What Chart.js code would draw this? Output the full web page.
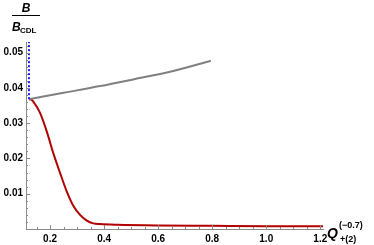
<!DOCTYPE html>
<html>
<head>
<meta charset="utf-8">
<script src="https://cdn.jsdelivr.net/npm/chart.js@4"></script>
<style>
  html, body { margin: 0; padding: 0; background: #fff; }
  #wrap { width: 374px; height: 245px; }
</style>
</head>
<body>
<div id="wrap"><canvas id="chart"></canvas></div>
<script>
// data
const redX = [0.122, 0.13, 0.138, 0.163, 0.188, 0.212, 0.237, 0.262, 0.286, 0.311, 0.336, 0.36, 0.385, 0.45, 0.6, 0.8, 1.0, 1.21];
const redY = [0.0368, 0.0367, 0.0361, 0.0329, 0.0276, 0.0215, 0.0159, 0.0106, 0.0066, 0.0040, 0.0024, 0.0016, 0.0014, 0.0012, 0.0010, 0.0009, 0.0008, 0.0008];
const grayX = [0.122, 0.25, 0.385, 0.507, 0.656, 0.795];
const grayY = [0.0368, 0.0386, 0.0405, 0.0424, 0.0448, 0.0477];
const blueX = [0.122, 0.122];
const blueY = [0.0368, 0.053];

const xTicks = [0.2, 0.4, 0.6, 0.8, 1.0, 1.2];
const yTicks = [0.01, 0.02, 0.03, 0.04, 0.05];

const toPts = (xs, ys) => xs.map((x, i) => ({ x: x, y: ys[i] }));

const axisColor = '#8a8a8a';
const tickFont = { family: '"Liberation Sans", Arial', size: 10, weight: 'bold' };

// inward major/minor ticks plus the axis labels, Mathematica style
const decor = {
  id: 'decor',
  afterDraw(chart) {
    const ctx = chart.ctx;
    const xs = chart.scales.x, ys = chart.scales.y;
    const left = chart.chartArea.left, bottom = chart.chartArea.bottom;
    ctx.save();
    ctx.strokeStyle = axisColor;
    ctx.lineWidth = 1;
    ctx.beginPath();
    for (let v = 0.15; v <= 1.2001; v += 0.05) {
      const major = xTicks.some(t => Math.abs(t - v) < 1e-6);
      const px = Math.round(xs.getPixelForValue(v)) + 0.5;
      ctx.moveTo(px, bottom);
      ctx.lineTo(px, bottom - (major ? 4 : 2));
    }
    for (let v = 0.002; v <= 0.0521; v += 0.002) {
      const major = yTicks.some(t => Math.abs(t - v) < 1e-6);
      const py = Math.round(ys.getPixelForValue(v)) + 0.5;
      ctx.moveTo(left, py);
      ctx.lineTo(left + (major ? 4 : 2), py);
    }
    ctx.stroke();

    // y label: B / B_CDL
    ctx.fillStyle = '#000';
    ctx.textBaseline = 'alphabetic';
    ctx.textAlign = 'center';
    ctx.font = 'italic bold 12px "Liberation Sans"';
    ctx.fillText('B', 26, 12);
    ctx.fillRect(12, 15, 28, 1);
    ctx.textAlign = 'left';
    ctx.fillText('B', 12, 31);
    ctx.font = 'bold 8px "Liberation Sans"';
    ctx.fillText('CDL', 20, 33);

    // x label: Q^(-0.7)_+(2)
    ctx.font = 'italic bold 14px "Liberation Sans"';
    ctx.fillText('Q', 327, 238);
    ctx.font = 'bold 9px "Liberation Sans"';
    ctx.fillText('(\u22120.7)', 339, 228);
    ctx.fillText('+(2)', 340, 242);
    ctx.restore();
  }
};

new Chart(document.getElementById('chart'), {
  type: 'scatter',
  data: {
    datasets: [
      {
        data: toPts(blueX, blueY),
        showLine: true,
        borderColor: '#1a1aff',
        borderWidth: 2,
        borderDash: [2, 2],
        pointRadius: 0,
      },
      {
        data: toPts(grayX, grayY),
        showLine: true,
        borderColor: '#808080',
        borderWidth: 2,
        cubicInterpolationMode: 'monotone',
        pointRadius: 0,
      },
      {
        data: toPts(redX, redY),
        showLine: true,
        borderColor: '#b20000',
        borderWidth: 2,
        cubicInterpolationMode: 'monotone',
        pointRadius: 0,
      },
    ],
  },
  options: {
    responsive: true,
    maintainAspectRatio: false,
    animation: false,
    layout: { padding: { top: 42, right: 51, left: 0, bottom: 0 } },
    plugins: {
      legend: { display: false },
      tooltip: { enabled: false },
    },
    scales: {
      x: {
        type: 'linear',
        min: 0.111,
        max: 1.21,
        grid: { display: false, drawTicks: false },
        border: { display: true, color: axisColor, width: 1 },
        afterBuildTicks: (s) => { s.ticks = xTicks.map(v => ({ value: v })); },
        afterFit: (s) => { s.height = 16; },
        ticks: {
          padding: 4,
          color: '#000',
          font: tickFont,
          maxRotation: 0,
          autoSkip: false,
          callback: (v) => v.toFixed(1),
        },
      },
      y: {
        type: 'linear',
        min: 0,
        max: 0.053,
        grid: { display: false, drawTicks: false },
        border: { display: true, color: axisColor, width: 1 },
        afterBuildTicks: (s) => { s.ticks = yTicks.map(v => ({ value: v })); },
        afterFit: (s) => { s.width = 26; },
        ticks: {
          padding: 3,
          color: '#000',
          font: tickFont,
          autoSkip: false,
          callback: (v) => v.toFixed(2),
        },
      },
    },
  },
  plugins: [decor],
});
</script>
</body>
</html>
